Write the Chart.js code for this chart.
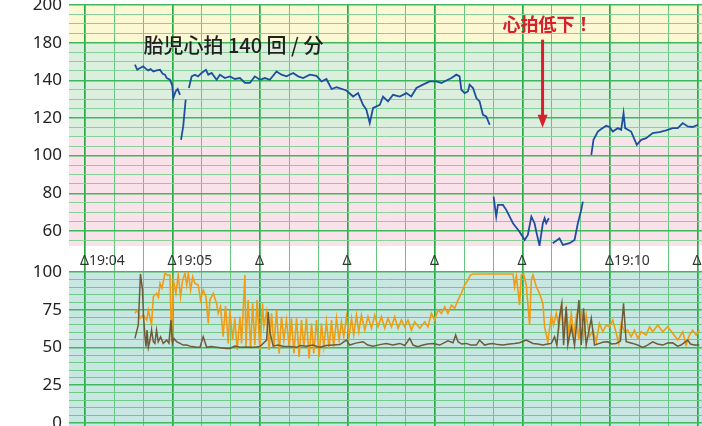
<!DOCTYPE html>
<html lang="ja">
<head>
<meta charset="utf-8">
<script src="https://cdn.jsdelivr.net/npm/chart.js@4"></script>
<style>
  html, body { margin: 0; padding: 0; background: #fff; overflow: hidden; }
  #wrap { position: relative; width: 702px; height: 426px; overflow: hidden; }
  #hr-chart { position: absolute; left: 0; top: -20px; }
  #toco-chart { position: absolute; left: 0; top: 250px; }
</style>
</head>
<body>
<div id="wrap">
  <canvas id="hr-chart" width="702" height="292"></canvas>
  <canvas id="toco-chart" width="702" height="176"></canvas>
</div>
<script>
// seconds after 19:04:00
const timeMarks = [0, 60, 120, 180, 240, 300, 360, 420];
const timeLabels = ['19:04', '19:05', '', '', '', '', '19:10', ''];

// top panel tick labels (as printed on the original strip)
const hrTickValues = [60, 80, 100, 120, 140, 160, 180];
const hrTickLabels = ['60', '80', '100', '120', '140', '180', '200'];
const tocoTickValues = [0, 25, 50, 75, 100];
const tocoTickLabels = ['0', '25', '50', '75', '100'];

// fetal heart rate (bpm), null = signal lost
const fhrSec = [34.2, 35.8, 37.7, 39.9, 41.6, 43.4, 45.0, 46.8, 49.1, 51.4, 53.2, 54.8, 56.0, 58.2, 59.8, 60.5, 62.1, 63.5, 65.1,
  65.4, 65.8, 67.3, 69.0, 70.0,
  71.2, 73.1, 75.3, 77.4, 79.9, 82.9, 84.5, 86.8, 90.2, 92.5, 95.9, 99.3, 102.7, 106.2, 109.6, 113.0, 116.4, 119.9, 123.3, 126.7,
  131.3, 134.7, 138.1, 142.7, 146.1, 149.5, 154.1, 158.7, 162.1, 165.5, 169.0, 172.4, 179.2, 183.8, 187.2, 190.6, 192.9, 195.2,
  197.5, 202.1, 204.3, 207.7, 211.2, 215.8, 220.3, 223.7, 227.2, 231.7, 236.3, 240.9, 244.3, 247.7, 251.2, 254.6, 256.8, 258.0,
  260.3, 262.5, 263.7, 266.0, 268.3, 270.5, 272.8, 275.1, 277.4,
  278.5,
  280.1, 281.9, 283.1, 286.5, 288.8, 293.4, 297.9, 301.4, 303.6, 306.0, 308.2, 309.4, 311.6, 313.9, 315.1, 316.2, 318.0,
  319.5,
  320.7, 325.3, 327.6, 332.2, 335.6, 337.9, 340.2, 341.3,
  344.0,
  347.1, 348.6, 351.6, 353.9, 357.3, 359.6, 361.8, 365.3, 367.6, 369.2, 370.3, 374.4, 378.3, 381.3, 384.7, 389.2, 393.8, 398.4,
  402.9, 406.4, 409.8, 413.2, 416.6, 420.1];
const fhrBpm = [148.3, 145.6, 146.5, 147.4, 146.2, 145.3, 146.0, 144.7, 145.3, 145.6, 143.5, 143.0, 141.2, 140.3, 137.1, 130.6, 134.1, 135.4, 132.3,
  null, 108.4, 115.5, 129.7, null,
  135.9, 142.1, 143.0, 142.1, 143.9, 145.6, 143.0, 143.9, 140.3, 143.0, 141.2, 142.1, 140.7, 141.2, 138.6, 138.6, 142.1, 140.3, 141.2, 140.3,
  144.7, 143.0, 142.1, 143.9, 142.1, 141.2, 143.0, 142.4, 139.4, 140.7, 135.4, 136.4, 134.6, 131.4, 133.2, 127.0, 124.4, 117.3,
  125.3, 127.0, 131.4, 128.8, 132.3, 131.4, 133.2, 131.4, 135.9, 137.7, 139.4, 139.4, 138.6, 139.9, 141.2, 143.0, 142.1, 135.0,
  133.2, 134.1, 137.7, 135.9, 130.6, 128.8, 121.7, 120.8, 116.4,
  null,
  78.2, 67.6, 73.8, 73.8, 71.2, 64.1, 59.6, 55.2, 57.9, 67.6, 64.1, 59.6, 52.2, 64.1, 66.8, 64.1, 66.8,
  null,
  53.5, 56.1, 52.6, 53.5, 55.2, 64.1, 71.2, 75.6,
  null,
  100.4, 108.4, 112.8, 114.1, 115.9, 115.2, 112.8, 114.6, 113.7, 122.6, 114.6, 112.8, 105.7, 108.4, 109.3, 112.0, 112.5, 113.4,
  114.6, 114.6, 117.3, 115.5, 115.2, 116.4];

// brown trace
const brownSec = [34.2, 36.5, 38.0, 39.4, 40.1, 41.1, 41.8, 42.5, 43.4, 44.5, 45.6, 46.8, 47.9, 49.0, 50.2, 51.8, 53.6, 56.0, 57.5,
  58.9, 59.9, 61.0, 62.8, 65.1, 67.3, 69.7, 71.9, 74.2, 76.5, 78.8, 81.0, 83.4, 86.3, 90.2, 93.8, 97.1, 99.3, 102.7, 106.2, 110.3,
  115.3, 119.9, 124.5, 125.6, 126.7, 129.0, 132.2, 135.8, 140.4, 145.0, 147.9, 151.8, 156.2, 161.0, 165.1, 170.1, 174.7, 179.2,
  181.5, 185.6, 190.6, 193.8, 197.5, 202.1, 206.6, 211.0, 215.8, 219.2, 222.6, 224.9, 228.1, 231.7, 234.9, 238.6, 243.2, 248.8,
  252.3, 254.1, 255.7, 258.2, 261.4, 264.4, 268.3, 270.5, 274.0, 276.7, 279.7, 282.9, 286.5, 291.1, 294.5, 297.9, 302.5, 307.1,
  310.3, 313.9, 317.1, 319.7, 321.9, 323.5, 325.3, 326.9, 328.1, 329.9, 331.0, 333.4, 335.6, 338.6, 340.2, 341.8, 343.6, 347.1,
  349.3, 352.7, 355.5, 358.4, 361.0, 364.2, 367.1, 369.2, 371.0, 375.5, 378.8, 382.4, 385.6, 389.2, 392.5, 396.1, 399.3, 402.9,
  406.2, 408.6, 413.2, 415.1, 417.8, 421.2];
const brownVal = [56.0, 64.9, 98.7, 88.1, 70.4, 57.1, 50.5, 61.5, 50.0, 54.9, 61.5, 53.8, 52.7, 61.5, 53.8, 57.1, 52.7, 54.9, 52.9,
  68.2, 52.9, 56.0, 53.8, 52.7, 51.6, 51.6, 50.9, 50.5, 50.1, 50.1, 57.1, 50.1, 50.6, 50.1, 49.6, 49.4, 49.4, 50.9, 50.1, 50.3,
  50.1, 50.6, 54.9, 73.7, 60.4, 50.9, 51.6, 50.9, 50.6, 50.1, 51.3, 50.9, 51.6, 50.1, 51.3, 51.6, 51.9, 54.9,
  51.6, 52.9, 53.8, 51.6, 50.9, 51.9, 52.7, 51.6, 52.7, 51.3, 56.0, 51.6, 50.5, 51.6, 52.3, 52.7, 51.6, 54.4,
  53.1, 58.2, 53.8, 52.3, 52.7, 51.6, 51.6, 54.9, 51.6, 52.3, 52.7, 51.9, 51.6, 52.3, 52.6, 53.1, 54.9, 52.7,
  52.3, 51.6, 52.3, 52.7, 57.1, 51.6, 70.4, 79.2, 51.6, 77.0, 51.6, 63.7, 51.6, 81.4, 51.6, 75.9, 51.6, 69.3,
  51.6, 52.7, 53.6, 53.8, 52.3, 52.7, 54.2, 79.2, 53.8, 52.7, 51.6, 50.1, 51.6, 53.8, 52.3, 51.6, 52.9, 53.1,
  50.9, 51.6, 54.9, 52.3, 51.6, 51.6];

// orange trace
const orangeSec = [34.2, 35.8, 37.7, 39.9, 42.3, 43.4, 45.6, 46.8, 49.1, 50.3, 51.4, 52.7, 54.8, 56.8, 58.2, 59.3, 60.5, 62.3,
  63.9, 65.5, 66.9, 68.5, 69.7, 70.8, 72.4, 73.8, 75.3, 77.6, 79.2, 81.0, 82.9, 84.5, 85.6, 87.9, 90.2, 91.3, 92.9, 94.7, 96.3,
  98.2, 99.3, 101.2, 102.7, 104.3, 106.2, 107.3, 109.6, 110.3, 111.8, 113.5, 114.9, 116.4, 118.0, 119.9, 121.7, 122.6, 124.5,
  126.2, 127.9, 129.5, 131.3, 133.1, 134.7, 136.3, 138.1, 140.0, 141.5, 143.2, 145.0, 146.8, 148.4, 150.0, 151.8, 153.6, 155.3,
  156.8, 158.7, 160.5, 162.1, 163.7, 165.5, 167.3, 169.0, 170.5, 172.4, 174.2, 175.8, 177.4, 179.2, 181.0, 182.7, 184.2, 186.1,
  187.7, 189.5, 191.8, 194.0, 196.4, 198.6, 200.9, 203.2, 205.5, 207.7, 210.1, 212.3, 214.6, 216.9, 219.2, 221.4, 223.8, 226.0,
  229.5, 232.9, 235.1, 237.5, 239.7, 242.0, 244.3, 246.6, 248.8, 251.2, 253.4, 255.7, 258.0, 260.3, 262.5, 264.2, 266.0, 293.4,
  294.5, 295.7, 296.8, 297.9, 299.1, 300.7, 302.5, 304.8, 306.0, 307.1, 309.4, 311.6, 313.9, 315.1, 317.3, 319.7, 321.2, 323.1,
  324.9, 326.5, 328.1, 329.9, 331.7, 333.4, 335.0, 336.8, 338.6, 340.2, 341.8, 343.6, 345.9, 348.2, 350.5, 352.7, 355.0, 357.3,
  359.6, 361.8, 364.2, 365.9, 367.6, 369.9, 372.1, 374.4, 376.7, 379.0, 381.3, 384.7, 387.0, 389.2, 392.7, 396.1, 399.5, 402.9,
  406.4, 409.8, 412.1, 414.4, 416.6, 419.0, 421.2];
const orangeVal = [72.6, 74.8, 69.3, 71.5, 68.2, 74.8, 64.9, 83.6, 85.9, 83.4, 92.5, 89.4, 99.1, 97.7, 98.0, 53.8, 94.7, 85.9,
  98.0, 83.6, 94.7, 99.1, 91.4, 99.1, 88.1, 96.9, 92.5, 91.4, 81.4, 88.1, 83.6, 66.0, 81.4, 85.9, 79.2, 72.6, 77.0, 57.1, 77.5,
  52.7, 74.8, 54.9, 69.3, 48.3, 70.4, 52.7, 98.0, 50.5, 81.4, 49.4, 79.2, 51.6, 81.4, 48.3, 79.2, 63.7, 73.7,
  48.3, 72.6, 50.5, 74.8, 46.1, 70.4, 54.9, 68.2, 50.5, 69.3, 46.1, 69.3, 43.8, 68.2, 50.5, 69.3, 42.8, 66.0,
  46.1, 68.2, 43.8, 66.0, 50.5, 67.0, 49.4, 68.2, 50.5, 69.3, 54.9, 67.0, 57.1, 70.4, 57.1, 69.3, 58.2, 71.5,
  60.4, 71.5, 61.5, 70.4, 62.7, 71.5, 63.7, 70.4, 62.7, 69.3, 63.7, 70.4, 62.7, 68.2, 63.7, 68.2, 61.5, 67.0,
  62.7, 67.0, 63.7, 72.6, 68.2, 74.8, 72.6, 77.0, 72.6, 78.1, 75.9, 81.4, 85.9, 91.4, 94.7, 98.0, 98.7, 98.7,
  90.3, 97.3, 88.1, 78.1, 98.0, 98.7, 91.4, 64.9, 94.7, 98.0, 90.3, 85.9, 79.2, 63.7, 53.8, 71.5, 64.9, 72.6,
  63.7, 77.0, 61.5, 74.8, 59.4, 72.6, 57.1, 70.4, 54.9, 74.8, 57.1, 71.5, 57.1, 61.5, 53.8, 66.0, 60.4, 64.9,
  63.7, 68.2, 59.4, 52.7, 66.0, 60.4, 61.5, 57.1, 61.5, 56.0, 60.4, 58.2, 63.7, 60.4, 64.9, 60.4, 63.7, 59.4,
  54.9, 60.4, 51.6, 58.2, 61.5, 58.2, 61.5];

const pts = (xs, ys) => xs.map((x, i) => ({ x: x, y: ys[i] }));

const minuteLine = '#27ab47';
const minorVLine = '#66c680';

function xGridColor(c) { return c.tick && c.tick.value % 60 === 0 ? minuteLine : minorVLine; }
function xGridWidth(c) { return c.tick && c.tick.value % 60 === 0 ? 1.7 : 1; }

function fixTicks(values) {
    return function (scale) { scale.ticks = values.map(v => ({ value: v })); };
}
const gridSecs = [];
for (let s = 0; s <= 420; s += 20) gridSecs.push(s);

const bandPlugin = {
    id: 'bands',
    beforeDraw(chart, args, opts) {
        const { ctx, chartArea: a } = chart;
        const y = chart.scales.y;
        ctx.save();
        opts.bands.forEach(b => {
            const top = Math.max(a.top, Math.min(a.bottom, y.getPixelForValue(b.to)));
            const bot = Math.max(a.top, Math.min(a.bottom, y.getPixelForValue(b.from)));
            ctx.fillStyle = b.color;
            ctx.fillRect(a.left, top, a.right - a.left, bot - top);
        });
        ctx.restore();
    }
};

const notePlugin = {
    id: 'notes',
    afterDatasetsDraw(chart) {
        const { ctx } = chart;
        const x = chart.scales.x, y = chart.scales.y;
        ctx.save();
        ctx.textBaseline = 'middle';
        ctx.fillStyle = '#231f20';
        ctx.font = '500 20px "Noto Sans CJK JP"';
        ctx.textAlign = 'left';
        ctx.fillText('胎児心拍 140 回 / 分', x.getPixelForValue(40), y.getPixelForValue(158.5));

        ctx.fillStyle = '#d7202c';
        ctx.font = 'bold 18px "Noto Sans CJK JP"';
        ctx.textAlign = 'center';
        ctx.fillText('心拍低下！', x.getPixelForValue(317), y.getPixelForValue(169.6));

        // arrow
        const ax = x.getPixelForValue(313.7);
        const y0 = y.getPixelForValue(161.6), y1 = y.getPixelForValue(114.8);
        ctx.strokeStyle = '#d7202c';
        ctx.lineWidth = 3;
        ctx.beginPath();
        ctx.moveTo(ax, y0);
        ctx.lineTo(ax, y1 - 10);
        ctx.stroke();
        ctx.beginPath();
        ctx.moveTo(ax - 5, y1 - 13);
        ctx.lineTo(ax + 5, y1 - 13);
        ctx.lineTo(ax, y1);
        ctx.closePath();
        ctx.fill();
        ctx.restore();
    }
};

const yAxisFit = s => { s.width = 69; s.paddingTop = 0; s.paddingBottom = 0; };

new Chart(document.getElementById('hr-chart'), {
    type: 'line',
    data: {
        datasets: [{
            label: '胎児心拍',
            data: pts(fhrSec, fhrBpm),
            borderColor: '#1f4f9c',
            borderWidth: 1.8,
            pointRadius: 0,
            tension: 0,
            spanGaps: false
        }]
    },
    options: {
        responsive: false,
        animation: false,
        layout: { padding: { top: 25, left: 0, right: 0, bottom: 0 } },
        plugins: {
            legend: { display: false },
            tooltip: { enabled: false },
            bands: {
                bands: [
                    { from: 160, to: 200, color: '#fcf8d3' },
                    { from: 110, to: 160, color: '#dcefdf' },
                    { from: 0, to: 110, color: '#fae2ea' }
                ]
            }
        },
        scales: {
            x: {
                type: 'linear',
                min: -11,
                max: 423,
                afterBuildTicks: fixTicks(gridSecs),
                afterFit: s => { s.height = 26; s.paddingLeft = 0; s.paddingRight = 0; },
                border: { display: false },
                grid: { color: xGridColor, lineWidth: xGridWidth, drawTicks: true, tickLength: 26 },
                ticks: {
                    autoSkip: false,
                    maxRotation: 0,
                    align: 'start',
                    labelOffset: -5,
                    padding: -19,
                    color: '#333',
                    font: { family: 'Noto Sans', size: 14 },
                    callback: v => {
                        const i = timeMarks.indexOf(v);
                        return i < 0 ? '' : 'Δ' + timeLabels[i];
                    }
                }
            },
            y: {
                min: 52,
                max: 180,
                afterBuildTicks: s => {
                    const t = [];
                    for (let v = 55; v <= 180; v += 5) t.push({ value: v });
                    s.ticks = t;
                },
                afterFit: yAxisFit,
                border: { display: false },
                grid: {
                    drawTicks: false,
                    color: c => c.tick && c.tick.value % 20 === 0 ? '#3fb75c' : '#86d199',
                    lineWidth: c => c.tick && c.tick.value % 20 === 0 ? 1.5 : 1
                },
                ticks: {
                    autoSkip: false,
                    padding: 7,
                    color: '#222',
                    font: { family: 'Noto Sans', size: 17 },
                    callback: v => {
                        const i = hrTickValues.indexOf(v);
                        return i < 0 ? '' : hrTickLabels[i];
                    }
                }
            }
        }
    },
    plugins: [bandPlugin, notePlugin]
});

new Chart(document.getElementById('toco-chart'), {
    type: 'line',
    data: {
        datasets: [
            {
                label: 'brown',
                data: pts(brownSec, brownVal),
                borderColor: '#6d5b3b',
                borderWidth: 1.5,
                pointRadius: 0,
                tension: 0
            },
            {
                label: 'orange',
                data: pts(orangeSec, orangeVal),
                borderColor: '#f09c14',
                borderWidth: 1.6,
                pointRadius: 0,
                tension: 0
            }
        ]
    },
    options: {
        responsive: false,
        animation: false,
        layout: { padding: { top: 22, left: 0, right: 0, bottom: 0 } },
        plugins: {
            legend: { display: false },
            tooltip: { enabled: false },
            bands: { bands: [{ from: -10, to: 110, color: '#c8e7e2' }] }
        },
        scales: {
            x: {
                type: 'linear',
                min: -11,
                max: 423,
                afterBuildTicks: fixTicks(gridSecs),
                afterFit: s => { s.height = 0; s.paddingLeft = 0; s.paddingRight = 0; },
                border: { display: false },
                grid: { color: xGridColor, lineWidth: xGridWidth, drawTicks: false },
                ticks: { display: false }
            },
            y: {
                min: -2,
                max: 100,
                afterBuildTicks: s => {
                    const t = [];
                    for (let v = 0; v <= 100; v += 5) t.push({ value: v });
                    s.ticks = t;
                },
                afterFit: yAxisFit,
                border: { display: false },
                grid: {
                    drawTicks: false,
                    color: c => c.tick && c.tick.value % 25 === 0 ? '#3fb75c' : '#6fca86',
                    lineWidth: c => c.tick && c.tick.value % 25 === 0 ? 1.5 : 1
                },
                ticks: {
                    autoSkip: false,
                    padding: 7,
                    color: '#222',
                    font: { family: 'Noto Sans', size: 17 },
                    callback: v => {
                        const i = tocoTickValues.indexOf(v);
                        return i < 0 ? '' : tocoTickLabels[i];
                    }
                }
            }
        }
    },
    plugins: [bandPlugin]
});
</script>
</body>
</html>
